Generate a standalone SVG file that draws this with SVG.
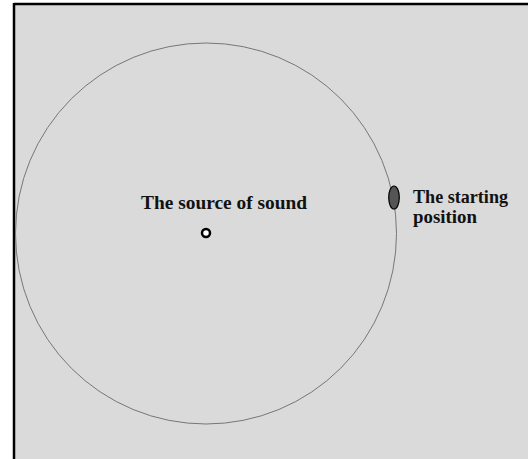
<svg xmlns="http://www.w3.org/2000/svg" width="528" height="459" viewBox="0 0 528 459">
<style>
.lbl{font-family:"Liberation Serif","Times New Roman",serif;font-weight:bold;font-size:19px;fill:#111}
</style>
<rect x="0" y="0" width="528" height="459" fill="#ffffff"/>
<rect x="14" y="4" width="514" height="455" fill="#dadada"/>
<line x1="14" y1="4" x2="528" y2="4" stroke="#000" stroke-width="2.5"/>
<line x1="14" y1="3" x2="14" y2="459" stroke="#000" stroke-width="2.5"/>
<g id="path-circle">
<circle cx="206" cy="233.5" r="190.5" fill="none" stroke="#777" stroke-width="1"/>
</g>
<g id="source">
<circle cx="206" cy="233" r="4" fill="#fff" stroke="#000" stroke-width="2.5"/>
<text class="lbl" x="141" y="209" textLength="166" lengthAdjust="spacingAndGlyphs">The source of sound</text>
</g>
<g id="start">
<ellipse cx="394" cy="197.5" rx="5.3" ry="11.5" fill="#555" stroke="#000" stroke-width="1.2"/>
<text class="lbl" x="413" y="203" textLength="95" lengthAdjust="spacingAndGlyphs">The starting</text>
<text class="lbl" x="413" y="223" textLength="64" lengthAdjust="spacingAndGlyphs">position</text>
</g>
<g id="connectors"/>
</svg>
